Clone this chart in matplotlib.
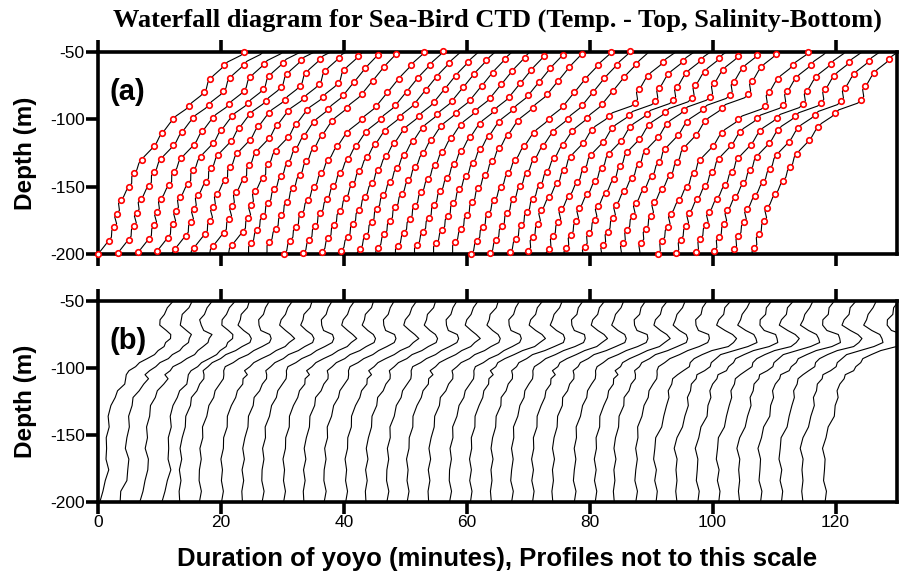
import matplotlib.pyplot as plt
import numpy as np

plt.rcParams['axes.unicode_minus'] = False
plt.rcParams['font.family'] = ['Liberation Sans', 'DejaVu Sans']

# ---------------- panel (a): temperature profiles (markers every 10 m) ----------------
# x position of the first (deepest) sample of each profile, minutes
temp_base = [0, 3.2, 6.5, 9.6, 12.5, 15.6, 18.7, 21.8, 24.9, 27.9,
             30.3, 33.4, 36.5, 39.6, 42.6, 45.6, 48.8, 51.9, 55.0, 58.1,
             60.7, 63.8, 67.0, 70.0, 73.3, 76.2, 79.2, 82.2, 85.4, 88.4,
             91.1, 94.1, 97.3, 100.3, 103.5, 106.8]
# depth of the first sample above -200 m
temp_phase = [0, 0.7, 1.2, 2.2, 3.7, 4.7, 5.9, 6.7, 7.9, 8.7,
              0, 0.5, 1.7, 2.5, 3.7, 4.7, 5.9, 6.7, 7.9, 8.7,
              0, 0.5, 1.2, 2.4, 3.4, 4.2, 5.5, 6.7, 8.0, 8.5,
              0, 0.7, 1.2, 2.4, 3.4, 4.5]
temp_group = [0] * 8 + [1] * 15 + [2] * 13
# profile shape: x offset of each 10 m sample (first value is one sample below)
temp_early = [-1.0, 0, 1.78, 2.65, 3.1, 3.73, 5.08, 5.9, 7.08, 9.08, 10.48, 12.2, 14.8, 17.2, 18.3, 20.5, 23.8]
temp_mid = [-0.8, 0, 1.0, 1.9, 2.8, 3.8, 4.9, 6.0, 7.2, 8.6, 10.2, 12.6, 15.0, 16.8, 18.6, 20.6, 22.8]
temp_late = [-0.6, 0, 0.7, 1.6, 2.1, 3.4, 4.7, 5.8, 6.9, 8.9, 10.4, 13.1, 17.4, 18.0, 19.5, 21.9, 24.5]
temp_shapes = [temp_early, temp_mid, temp_late]

# small stair-like wiggle between samples
step_f = [0.25, 0.5, 0.75]
step_x = [0.06, 0.5, 0.94]
step_w = [0.35, 0.0, -0.35]

# ---------------- panel (b): salinity profiles ----------------
sal_base = [0.3, 3.6, 6.8, 10.4, 13.3, 16.5, 20.1, 23.5, 26.7, 30.2,
            33.5, 36.8, 40.3, 43.6, 47.0, 50.3, 53.8, 57.2, 60.6, 64.0,
            67.3, 70.7, 74.0, 77.5, 80.9, 84.0, 87.5, 90.8, 94.2, 97.6,
            101.0, 104.4, 107.8, 111.2, 114.7, 118.3]
sal_group = [0] * 4 + [1] * 14 + [2] * 9 + [3] * 9
sal_depth = [-200, -192, -184, -176, -168, -160, -152, -144, -136, -128, -122, -117,
             -112, -108, -105, -102, -99, -96, -93, -90, -87, -84, -81, -78, -75,
             -72, -68, -64, -60, -55, -50]
sal_early = [0, 0.3, 1.0, 1.3, 1.2, 1.0, 1.1, 1.3, 1.5, 1.8, 2.3, 3.0,
             3.9, 4.4, 4.2, 4.8, 5.6, 6.6, 7.7, 8.7, 9.6, 10.3, 10.9, 11.4, 11.6,
             10.6, 9.9, 9.8, 10.3, 11.1, 11.8]
sal_mid = [0, 0.1, 0.1, 0.0, 0.1, 0.2, 0.4, 0.7, 1.1, 1.6, 2.1, 2.7,
           3.3, 3.7, 4.1, 3.8, 4.4, 5.4, 6.5, 7.7, 9.0, 10.2, 11.2, 11.8, 11.3,
           10.2, 9.6, 9.7, 10.2, 10.9, 11.4]
sal_midlate = [0, 0.05, 0.0, 0.0, 0.05, 0.1, 0.2, 0.5, 0.9, 1.4, 1.8, 2.3,
               2.8, 3.2, 3.6, 3.3, 3.9, 4.6, 5.6, 6.9, 8.6, 10.3, 11.5, 12.1, 11.7,
               10.4, 9.7, 9.8, 10.4, 11.0, 11.6]
sal_late = [0, 0.0, -0.1, -0.1, -0.2, -0.3, 0.0, 0.7, 1.4, 1.7, 1.9, 2.1,
            2.4, 2.9, 3.4, 4.5, 5.2, 5.7, 6.2, 7.3, 9.2, 11.6, 12.8, 13.0, 12.5,
            11.0, 10.0, 10.2, 10.8, 11.3, 12.0]
sal_shapes = [sal_early, sal_mid, sal_midlate, sal_late]
sal_jag = [0.0, 0.2, -0.12, 0.15, -0.2, 0.1, -0.06, 0.22, -0.15]

x_ticks = [0, 20, 40, 60, 80, 100, 120]
y_ticks = [-50, -100, -150, -200]

fig = plt.figure(figsize=(9.01, 5.79), dpi=100)
ax_a = fig.add_axes([98 / 901, 1 - 254 / 579, 799 / 901, 202 / 579])
ax_b = fig.add_axes([98 / 901, 1 - 502 / 579, 799 / 901, 201 / 579])

# temperature
for i in range(len(temp_base)):
    offs = np.array(temp_shapes[temp_group[i]])
    depths = -210 + temp_phase[i] + 10 * np.arange(len(offs))
    xs = temp_base[i] + offs
    lx, ly = [xs[0]], [depths[0]]
    for k in range(len(xs) - 1):
        dx = xs[k + 1] - xs[k]
        for f, fx, w in zip(step_f, step_x, step_w):
            lx.append(xs[k] + fx * dx + w)
            ly.append(depths[k] + 10 * f)
        lx.append(xs[k + 1])
        ly.append(depths[k + 1])
    ax_a.plot(lx, ly, color='black', lw=0.8)
    m = (depths >= -200.6) & (depths <= -49.4)
    ax_a.plot(xs[m], depths[m], 'o', ms=4, mfc='white', mec='red', mew=1.2,
              clip_on=False, zorder=3)

# salinity
for i in range(len(sal_base)):
    offs = np.array(sal_shapes[sal_group[i]], dtype=float)
    jag = np.array([sal_jag[(j + 3 * i) % len(sal_jag)] for j in range(len(offs))])
    jag[0] = 0
    ax_b.plot(sal_base[i] + offs + jag, sal_depth, color='black', lw=0.8)

for ax, lab in [(ax_a, '(a)'), (ax_b, '(b)')]:
    ax.set_xlim(0, 130)
    ax.set_ylim(-200, -50)
    ax.set_xticks(x_ticks)
    ax.set_yticks(y_ticks)
    for s in ax.spines.values():
        s.set_linewidth(2.6)
    ax.tick_params(axis='both', direction='out', length=8.5, width=2.6,
                   labelsize=12.5, pad=1)
    ax.tick_params(axis='x', top=True)
    ax.set_ylabel('Depth (m)', fontsize=17.5, fontweight='bold', labelpad=9)
    ax.text(0.015, 0.8, lab, transform=ax.transAxes, fontsize=21,
            fontweight='bold', va='center', ha='left')

ax_a.tick_params(axis='x', labelbottom=False)
ax_b.set_xlabel('Duration of yoyo (minutes), Profiles not to this scale',
                fontsize=18.5, fontweight='bold', labelpad=12)
ax_a.set_title('Waterfall diagram for Sea-Bird CTD (Temp. - Top, Salinity-Bottom)',
               fontsize=19, fontweight='bold', family='Liberation Serif', pad=18)

fig.savefig('out.png', dpi=100)
